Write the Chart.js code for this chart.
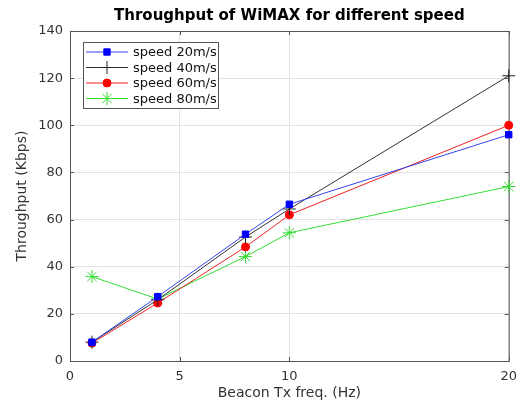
<!DOCTYPE html>
<html>
<head>
<meta charset="utf-8">
<script src="https://cdn.jsdelivr.net/npm/chart.js@4"></script>
<style>
  html, body { margin: 0; padding: 0; background: #fff; }
  #wrap { width: 525px; height: 403px; }
</style>
</head>
<body>
<div id="wrap"><canvas id="chart" width="525" height="403"></canvas></div>
<script>
const freqs = [1, 4, 8, 10, 20];
const speed20 = [8, 27.3, 53.8, 66.5, 96];
const speed40 = [8, 26, 52.6, 64.5, 121];
const speed60 = [7.6, 24.6, 48.4, 62, 100];
const speed80 = [35.8, 26.3, 44.3, 54.4, 74];
const seriesLabels = ['speed 20m/s', 'speed 40m/s', 'speed 60m/s', 'speed 80m/s'];
const xTicks = [0, 5, 10, 20];
const chartTitle = 'Throughput of WiMAX for different speed';

const FONT = 'DejaVu Sans, sans-serif';

const toPoints = (vals) => freqs.map((f, i) => ({ x: f, y: vals[i] }));

const styles = [
    { color: '#0000ff', point: 'rect', radius: 4.5, line: '#3344ee' },
    { color: '#222222', point: 'cross', radius: 6.5, line: '#333333' },
    { color: '#ff0000', point: 'circle', radius: 4, line: '#ee2222' },
    { color: '#33dd33', point: 'star', radius: 6.5, line: '#33dd33' }
];

const datasets = [speed20, speed40, speed60, speed80].map((vals, i) => ({
    label: seriesLabels[i],
    data: toPoints(vals),
    showLine: true,
    clip: false,
    borderColor: styles[i].line,
    borderWidth: 1,
    pointStyle: styles[i].point,
    pointRadius: styles[i].radius,
    pointBackgroundColor: styles[i].color,
    pointBorderColor: styles[i].color,
    pointBorderWidth: 1,
    tension: 0
}));

// title centred over the plot area (not the whole canvas)
const titlePlugin = {
    id: 'plotTitle',
    afterDraw(chart) {
        const { ctx, chartArea: a } = chart;
        ctx.save();
        ctx.font = 'bold 15px ' + FONT;
        ctx.fillStyle = '#000';
        ctx.textAlign = 'center';
        ctx.textBaseline = 'middle';
        ctx.fillText(chartTitle, (a.left + a.right) / 2, 16);
        ctx.restore();
    }
};

// box around the axes + inward ticks, like the original plot
const boxPlugin = {
    id: 'box',
    beforeDatasetsDraw(chart) {
        const { ctx, chartArea: a } = chart;
        ctx.save();
        ctx.strokeStyle = '#555';
        ctx.lineWidth = 1;
        ctx.strokeRect(a.left + 0.5, a.top + 0.5, a.right - a.left, a.bottom - a.top);
        const xs = chart.scales.x, ys = chart.scales.y;
        ctx.beginPath();
        xs.ticks.forEach(t => {
            const px = Math.round(xs.getPixelForValue(t.value)) + 0.5;
            ctx.moveTo(px, a.bottom); ctx.lineTo(px, a.bottom - 4);
            ctx.moveTo(px, a.top); ctx.lineTo(px, a.top + 4);
        });
        ys.ticks.forEach(t => {
            const py = Math.round(ys.getPixelForValue(t.value)) + 0.5;
            ctx.moveTo(a.left, py); ctx.lineTo(a.left + 4, py);
            ctx.moveTo(a.right, py); ctx.lineTo(a.right - 4, py);
        });
        ctx.stroke();
        ctx.restore();
    }
};

// legend drawn inside the plot: line with marker in the middle
const legendPlugin = {
    id: 'insideLegend',
    afterDatasetsDraw(chart) {
        const { ctx, chartArea: a } = chart;
        const x0 = a.left + 13, y0 = a.top + 11;
        const w = 135, rowH = 15.5, h = rowH * chart.data.datasets.length + 4;
        ctx.save();
        ctx.fillStyle = '#fff';
        ctx.fillRect(x0, y0, w, h);
        ctx.strokeStyle = '#555';
        ctx.lineWidth = 1;
        ctx.strokeRect(x0 + 0.5, y0 + 0.5, w, h);
        ctx.font = '13px ' + FONT;
        ctx.textBaseline = 'middle';
        chart.data.datasets.forEach((ds, i) => {
            const y = y0 + 10 + i * rowH;
            ctx.strokeStyle = ds.borderColor;
            ctx.lineWidth = 1;
            ctx.beginPath();
            ctx.moveTo(x0 + 3, y); ctx.lineTo(x0 + 45, y);
            ctx.stroke();
            ctx.fillStyle = ds.pointBackgroundColor;
            ctx.strokeStyle = ds.pointBorderColor;
            Chart.helpers.drawPoint(ctx, { pointStyle: ds.pointStyle, radius: ds.pointRadius, borderWidth: 1, rotation: 0 }, x0 + 24, y);
            ctx.fillStyle = '#111';
            ctx.fillText(ds.label, x0 + 50, y + 1);
        });
        ctx.restore();
    }
};

new Chart(document.getElementById('chart'), {
    type: 'scatter',
    data: { datasets },
    options: {
        responsive: false,
        animation: false,
        layout: { padding: { left: 12, right: 16, top: 31, bottom: 0 } },
        plugins: {
            legend: { display: false },
            tooltip: { enabled: false },
            title: { display: false }
        },
        scales: {
            x: {
                type: 'linear',
                min: 0,
                max: 20,
                afterBuildTicks: (scale) => { scale.ticks = xTicks.map(v => ({ value: v })); },
                afterFit: (scale) => { scale.height = 42; },
                grid: { color: '#e3e3e3', drawTicks: false },
                border: { display: false },
                ticks: { color: '#333', padding: 8, font: { family: FONT, size: 13 } },
                title: {
                    display: true,
                    text: 'Beacon Tx freq. (Hz)',
                    color: '#333',
                    font: { family: FONT, size: 14 },
                    padding: { top: 0, bottom: 1 }
                }
            },
            y: {
                min: 0,
                max: 140,
                afterFit: (scale) => { scale.width = 58; },
                grid: { color: '#e3e3e3', drawTicks: false },
                border: { display: false },
                ticks: { stepSize: 20, color: '#333', padding: 7, font: { family: FONT, size: 13 } },
                title: {
                    display: true,
                    text: 'Throughput (Kbps)',
                    color: '#333',
                    font: { family: FONT, size: 14 },
                    padding: { top: 2, bottom: 0 }
                }
            }
        }
    },
    plugins: [titlePlugin, boxPlugin, legendPlugin]
});
</script>
</body>
</html>
